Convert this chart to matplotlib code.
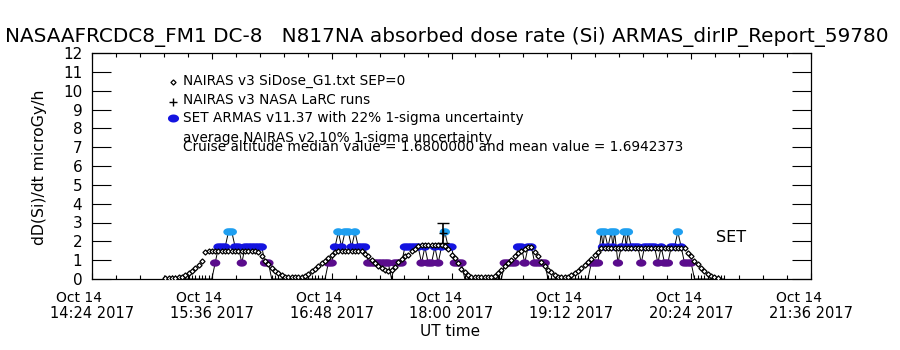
import numpy as np
import matplotlib
matplotlib.use("Agg")
import matplotlib.pyplot as plt
from matplotlib.path import Path

# ---------------- data ----------------
title = "NASAAFRCDC8_FM1 DC-8   N817NA absorbed dose rate (Si) ARMAS_dirIP_Report_59780"
xlabel = "UT time"
ylabel = "dD(Si)/dt microGy/h"

# x axis: minutes after Oct 14 2017 14:24 UT
xtick_minutes = [0, 72, 144, 216, 288, 360, 432]
xtick_top = ["Oct 14"] * 7
xtick_bottom = ["14:24 2017", "15:36 2017", "16:48 2017", "18:00 2017",
                "19:12 2017", "20:24 2017", "21:36 2017"]
ytick_values = list(range(0, 13))

# NAIRAS v3 SiDose_G1 (open diamonds)
nairas_t = [44, 46, 48, 50, 52, 54,
            56, 58, 60, 62, 64, 66,
            68, 70, 72, 74, 76, 78, 80, 82, 84, 86, 88, 90, 92, 94, 96, 98,
            100, 102, 104, 106, 108, 110, 112, 114, 116,
            118, 120, 122, 124, 126,
            128, 130, 132, 134, 136, 138, 140, 142, 144, 146,
            148, 150, 152, 154, 156, 158, 160, 162,
            164, 166, 168, 170,
            172, 174, 176, 178, 180, 182,
            184, 186, 188, 190, 192, 194,
            196, 198, 200, 202, 204, 206, 208, 210, 212,
            214, 216, 218, 220, 222, 224, 226, 228,
            230, 232, 234, 236, 238, 240,
            242, 244, 246, 248, 250, 252, 254, 256,
            258, 260, 262, 264,
            266, 268, 270, 272, 274, 276, 278, 280,
            282, 284, 286,
            288, 290, 292, 294, 296, 298, 300, 302, 304, 306,
            308, 310, 312, 314, 316, 318, 320, 322, 324, 326, 328, 330, 332,
            334, 336, 338, 340, 342, 344, 346, 348, 350, 352, 354, 356,
            358, 360, 362, 364, 366, 368, 370, 372, 374, 376]
nairas_v = [0.05, 0.05, 0.05, 0.06, 0.08, 0.12,
            0.20, 0.30, 0.45, 0.60, 0.75, 0.95,
            1.45, 1.50, 1.50, 1.50, 1.50, 1.50, 1.50, 1.50, 1.50, 1.50, 1.50, 1.50, 1.50, 1.50, 1.50, 1.50,
            1.45, 1.20, 0.95, 0.80, 0.60, 0.45, 0.30, 0.20, 0.12,
            0.10, 0.10, 0.10, 0.10, 0.10,
            0.15, 0.25, 0.40, 0.55, 0.70, 0.85, 0.95, 1.10, 1.25, 1.45,
            1.50, 1.50, 1.50, 1.50, 1.50, 1.50, 1.50, 1.50,
            1.35, 1.20, 1.00, 0.85,
            0.70, 0.60, 0.50, 0.45, 0.50, 0.65,
            0.90, 1.05, 1.20, 1.30, 1.50, 1.60,
            1.75, 1.80, 1.80, 1.80, 1.80, 1.80, 1.80, 1.80, 1.75,
            1.60, 1.30, 1.10, 0.85, 0.55, 0.35, 0.20, 0.12,
            0.08, 0.08, 0.08, 0.08, 0.08, 0.10,
            0.15, 0.30, 0.50, 0.70, 0.85, 1.00, 1.20, 1.40,
            1.50, 1.60, 1.70, 1.70,
            1.45, 1.20, 0.90, 0.70, 0.50, 0.35, 0.20, 0.12,
            0.08, 0.08, 0.10,
            0.20, 0.30, 0.45, 0.60, 0.75, 0.90, 1.05, 1.25, 1.45, 1.65,
            1.65, 1.65, 1.65, 1.65, 1.65, 1.65, 1.65, 1.65, 1.65, 1.65, 1.65, 1.65, 1.65,
            1.65, 1.65, 1.65, 1.65, 1.65, 1.65, 1.65, 1.65, 1.65, 1.65, 1.65, 1.65,
            1.40, 1.20, 0.95, 0.80, 0.60, 0.40, 0.25, 0.15, 0.10, 0.06]

# SET ARMAS v11.37 measurements
armas_t = [48, 50, 52, 54, 56, 58, 60, 62, 64, 66, 68, 70, 72,
           74, 76, 78, 80, 82, 84, 86, 88, 90, 92, 94, 96, 98, 100, 102, 104, 106,
           108, 110, 112, 114, 116, 118, 120, 122, 124, 126, 128, 130, 132, 134, 136, 138, 140,
           142, 144, 146, 148, 150, 152, 154, 156, 158, 160, 162, 164,
           166, 168, 170, 172, 174, 176, 178, 180, 182, 184, 186,
           188, 190, 192, 194, 196, 198, 200, 202, 204, 206, 208, 210, 212, 214, 216, 218, 220, 222,
           224, 226, 228, 230, 232, 234, 236, 238, 240, 242, 244, 246,
           248, 250, 252, 254, 256, 258, 260, 262, 264, 266, 268, 270, 272,
           274, 276, 278, 280, 282, 284, 286, 288, 290, 292, 294, 296, 298,
           300, 302, 304, 306, 307, 308, 310, 312, 313, 314, 316, 318, 320, 321, 322, 324, 326, 328,
           330, 332, 334, 336, 338, 340, 342, 344, 346, 348, 350, 352, 354, 356, 358, 360,
           362, 364, 366, 368, 370, 372, 374, 376, 378, 380]
armas_v = [0, 0, 0, 0, 0, 0, 0, 0, 0, 0, 0, 0, 0,
           0.85, 1.7, 1.7, 1.7, 2.5, 2.5, 1.7, 1.7, 0.85, 1.7, 1.7, 1.7, 1.7, 1.7, 1.7, 0.85, 0.85,
           0, 0, 0, 0, 0, 0, 0, 0, 0, 0, 0, 0, 0, 0, 0, 0, 0,
           0.85, 0.85, 1.7, 2.5, 1.7, 2.5, 2.5, 1.7, 2.5, 1.7, 1.7, 1.7,
           0.85, 0.85, 0.85, 0.85, 0.85, 0.85, 0.85, 0, 0.85, 0.85, 0.85,
           1.7, 1.7, 1.7, 1.7, 1.7, 0.85, 1.7, 0.85, 0.85, 1.7, 0.85, 1.7, 2.5, 1.7, 1.7, 0.85, 0.85, 0.85,
           0, 0, 0, 0, 0, 0, 0, 0, 0, 0, 0, 0,
           0.85, 0.85, 0.85, 0.85, 1.7, 1.7, 0.85, 1.7, 1.7, 0.85, 0.85, 0.85, 0.85,
           0, 0, 0, 0, 0, 0, 0, 0, 0, 0, 0, 0, 0,
           0.85, 0.85, 0.85, 2.5, 1.7, 2.5, 1.7, 2.5, 1.7, 2.5, 0.85, 1.7, 2.5, 1.7, 2.5, 1.7, 1.7, 1.7,
           0.85, 1.7, 1.7, 1.7, 1.7, 0.85, 1.7, 0.85, 0.85, 1.7, 1.7, 2.5, 1.7, 0.85, 0.85, 0.85,
           0, 0, 0, 0, 0, 0, 0, 0, 0, 0]

# NAIRAS v3 NASA LaRC run (plus with uncertainty bar)
larc_t = [211]
larc_v = [2.45]
larc_err = [0.55]

legend_lines = ["NAIRAS v3 SiDose_G1.txt SEP=0",
                "NAIRAS v3 NASA LaRC runs",
                "SET ARMAS v11.37 with 22% 1-sigma uncertainty",
                "average NAIRAS v2 10% 1-sigma uncertainty",
                "Cruise altitude median value = 1.6800000 and mean value = 1.6942373"]
set_label = "SET"
set_label_pos = (375, 2.2)

# ---------------- styling ----------------
plt.rcParams['font.family'] = ['DejaVu Sans']
col_low = "#5a0c8c"
col_mid = "#1414e0"
col_high = "#1e9ff0"

def armas_color(v):
    if v >= 2.2:
        return col_high
    if v >= 1.3:
        return col_mid
    return col_low

ang = np.linspace(0, 2 * np.pi, 41)
ellipse = Path(np.column_stack([np.cos(ang), 0.72 * np.sin(ang)]), closed=True)

fig = plt.figure(figsize=(9, 3.5), dpi=100)
ax = fig.add_axes([92 / 900, 1 - 279 / 350, 719 / 900, 226 / 350])

at = np.array(armas_t, float)
av = np.array(armas_v, float)
ax.plot(at, av, color="black", lw=0.7, zorder=2)
nz = av > 0
ax.scatter(at[nz], av[nz], marker=ellipse, s=55,
           c=[armas_color(v) for v in av[nz]], edgecolors="none", zorder=3)
ax.plot(at[~nz], av[~nz], ls="none", marker="|", ms=6, mew=0.8, color="black", zorder=3)

ax.plot(nairas_t, nairas_v, ls="none", marker="D", ms=2.6, mfc="white",
        mec="black", mew=0.9, zorder=4)

ax.errorbar(larc_t, larc_v, yerr=larc_err, fmt="+", color="black", ms=6,
            mew=1, elinewidth=1.2, capsize=4, capthick=1, zorder=5)

ax.text(set_label_pos[0], set_label_pos[1], set_label, fontsize=11.5, ha="left", va="center")

ax.set_xlim(xtick_minutes[0], xtick_minutes[-1])
ax.set_ylim(0, 12)
ax.set_xticks(xtick_minutes)
ax.set_xticklabels([])
ax.set_xticks(np.arange(0, 433, 14.4), minor=True)
ax.set_yticks(ytick_values)
ax.set_yticklabels([str(v) for v in ytick_values], fontsize=11)
ax.tick_params(axis="x", which="major", direction="in", length=4.5, width=0.8, top=True)
ax.tick_params(axis="x", which="minor", direction="in", length=3, width=0.8, top=True)
ax.tick_params(axis="y", which="major", direction="in", length=14, width=0.8,
               right=True, pad=7)
for s in ax.spines.values():
    s.set_linewidth(0.9)

# two-line date tick labels
for xm, t1, t2 in zip(xtick_minutes, xtick_top, xtick_bottom):
    ax.annotate(t1, xy=(xm, 0), xycoords=("data", "axes fraction"),
                xytext=(-9, -13.5), textcoords="offset points", fontsize=10,
                ha="center", va="center", annotation_clip=False)
    ax.annotate(t2, xy=(xm, 0), xycoords=("data", "axes fraction"),
                xytext=(0, -25), textcoords="offset points", fontsize=10.5,
                ha="center", va="center", annotation_clip=False)

fig.text(447 / 900, 1 - 37 / 350, title, fontsize=14.45, ha="center", va="center")
fig.text(450 / 900, 1 - 332 / 350, xlabel, fontsize=11, ha="center", va="center")
fig.text(40 / 900, 1 - 167 / 350, ylabel, fontsize=11.3, ha="center", va="center",
         rotation=90)

# legend block
lx = 183 / 900
ys = [81, 100, 118, 138, 147]
for txt, y in zip(legend_lines, ys):
    fig.text(lx, 1 - y / 350, txt, fontsize=9.8, ha="left", va="center")
mx = 173 / 900
fig.lines.append(plt.Line2D([mx], [1 - 82 / 350], transform=fig.transFigure, ls="none",
                            marker="D", ms=2.6, mfc="white", mec="black", mew=0.9))
fig.lines.append(plt.Line2D([mx], [1 - 102 / 350], transform=fig.transFigure, ls="none",
                            marker="+", ms=6, mew=1, color="black"))
fig.lines.append(plt.Line2D([mx], [1 - 118 / 350], transform=fig.transFigure, ls="none",
                            marker=ellipse, ms=8, color=col_mid, mec="none"))

fig.savefig("out.png", dpi=100)
